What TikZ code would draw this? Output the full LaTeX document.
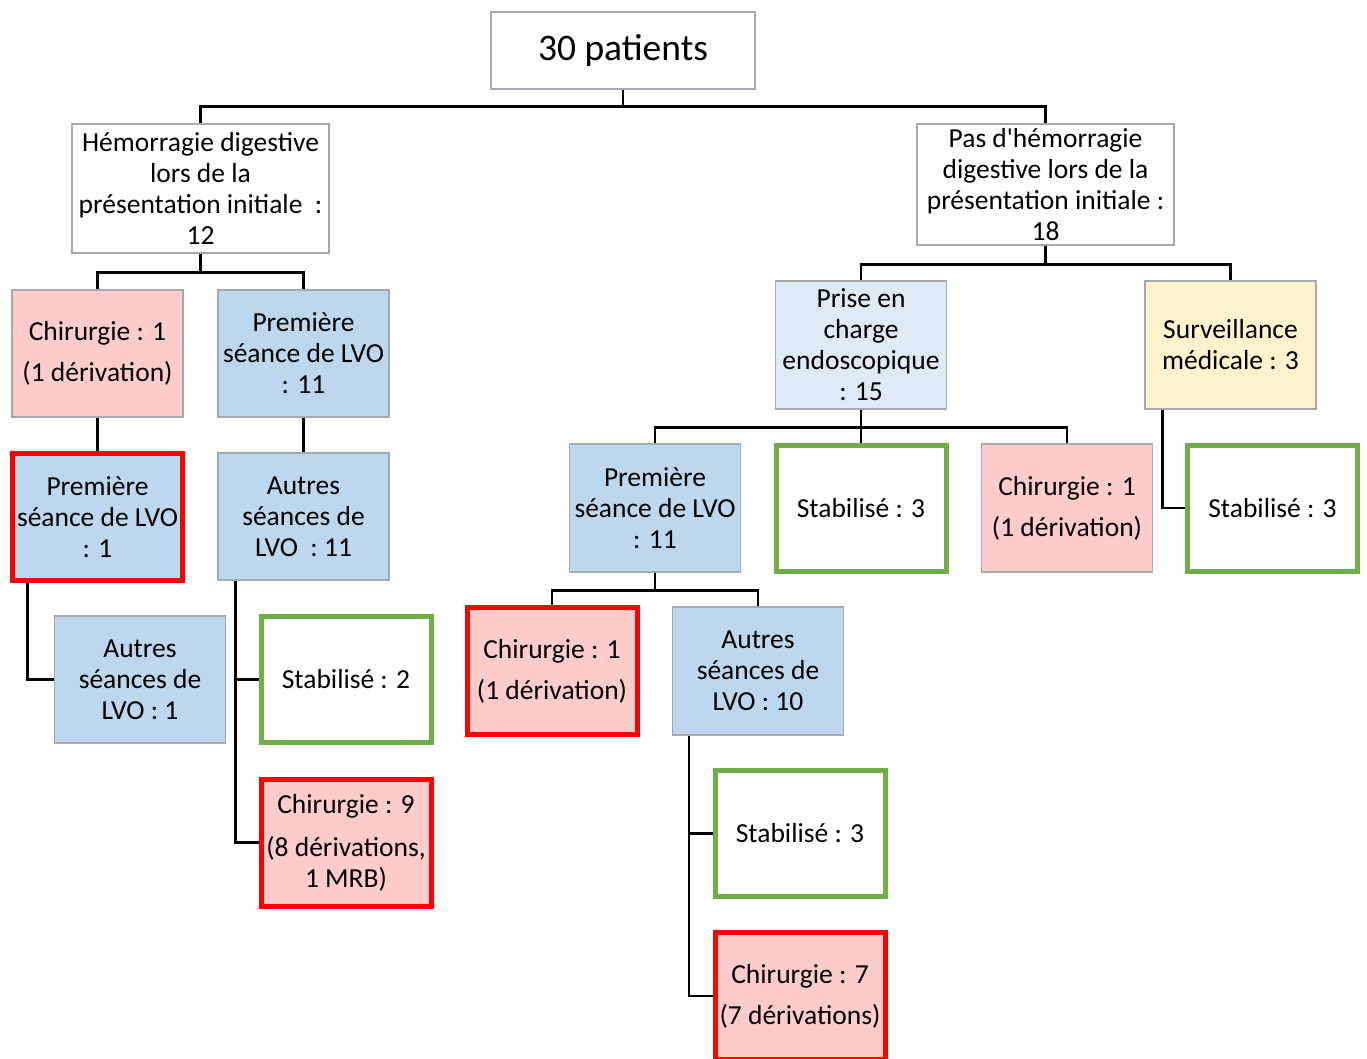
\documentclass[tikz,border=0pt]{standalone}
\usepackage{fontspec}
\setmainfont{Carlito}
\begin{document}
\begin{tikzpicture}[x=1pt,y=-1pt,
  every node/.style={inner sep=0pt, align=center, font=\fontsize{27.5}{31}\selectfont},
  box/.style={draw=boxgray, line width=1.2pt, minimum width=#1},
  box/.default=171,
  bluebox/.style={box, fill=blueF, minimum height=127},
  pinkbox/.style={box, fill=pinkF, minimum height=127},
  redbox/.style={draw=red, line width=5pt, fill=pinkF, minimum width=170, minimum height=127},
  redblue/.style={draw=red, line width=5pt, fill=blueF, minimum width=170, minimum height=127},
  greenbox/.style={draw=greenB, line width=5pt, fill=white, minimum width=170, minimum height=126},
  conn/.style={line width=2.4pt, black}
]
\definecolor{boxgray}{HTML}{A3A9AF}
\definecolor{blueF}{HTML}{BDD7EE}
\definecolor{pinkF}{HTML}{FFCCCC}
\definecolor{yellowF}{HTML}{FFF2CC}
\definecolor{lblueF}{HTML}{DEEBF7}
\definecolor{greenB}{HTML}{70AD47}
\useasboundingbox[fill=white] (0,0) rectangle (1367,1059);

% root
\node[box=264, fill=white, minimum height=77, font=\fontsize{37.5}{42}\selectfont] (root) at (623,50.5) {30 patients};

% level 1
\node[box=257, fill=white, minimum height=129] (H1) at (200.5,188.5)
  {Hémorragie digestive\\lors de la\\présentation initiale~ :\\12};
\node[box=257, fill=white, minimum height=121] (H2) at (1045.5,184.5)
  {Pas d\textquotesingle hémorragie\\digestive lors de la\\présentation initiale :\\18};

% left branch
\node[pinkbox] (L1) at (97.5,353.5) {Chirurgie : 1\\[10pt](1 dérivation)};
\node[bluebox] (L2) at (303.5,353.5) {Première\\séance de LVO\\: 11};
\node[redblue] (L3) at (97.5,517) {Première\\séance de LVO\\: 1};
\node[bluebox] (L4) at (303.5,516.5) {Autres\\séances de\\LVO~ : 11};
\node[bluebox] (L5) at (140,679.5) {Autres\\séances de\\LVO : 1};
\node[greenbox] (L6) at (346,679.5) {Stabilisé : 2};
\node[redbox] (L7) at (346,842.5) {Chirurgie : 9\\[12pt](8 dérivations,\\1 MRB)};

% right branch
\node[box, fill=lblueF, minimum height=128] (R1) at (861,345) {Prise en\\charge\\endoscopique\\: 15};
\node[box, fill=yellowF, minimum height=128] (R2) at (1230.5,345) {Surveillance\\médicale : 3};
\node[bluebox, minimum height=128] (R3) at (655,508) {Première\\séance de LVO\\: 11};
\node[greenbox] (R4) at (861,508.5) {Stabilisé : 3};
\node[pinkbox, minimum height=128] (R5) at (1067,508) {Chirurgie : 1\\[10pt](1 dérivation)};
\node[greenbox] (R6) at (1272.5,508) {Stabilisé : 3};
\node[redbox] (R7) at (552,671) {Chirurgie : 1\\[10pt](1 dérivation)};
\node[bluebox, minimum height=128] (R8) at (758,671) {Autres\\séances de\\LVO : 10};
\node[greenbox] (R9) at (800,833.5) {Stabilisé : 3};
\node[redbox] (R10) at (800,996) {Chirurgie : 7\\[10pt](7 dérivations)};

% connectors
\draw[conn] (root.south) -- ++(0,17) -| (H1.north);
\draw[conn] (root.south) -- ++(0,17) -| (H2.north);
\draw[conn] (H1.south) -- ++(0,19) -| (L1.north);
\draw[conn] (H1.south) -- ++(0,19) -| (L2.north);
\draw[conn] (L1.south) -- (L3.north);
\draw[conn] (L2.south) -- (L4.north);
\draw[conn] ([xshift=17.5pt]L3.south west) |- (L5.west);
\draw[conn] ([xshift=18pt]L4.south west) |- (L6.west);
\draw[conn] ([xshift=18pt]L4.south west) |- (L7.west);
\draw[conn] (H2.south) -- ++(0,19) -| (R1.north);
\draw[conn] (H2.south) -- ++(0,19) -| (R2.north);
\draw[conn] (R1.south) -- ++(0,18) -| (R3.north);
\draw[conn] (R1.south) -- (R4.north);
\draw[conn] (R1.south) -- ++(0,18) -| (R5.north);
\draw[conn] ([xshift=18pt]R2.south west) |- (R6.west);
\draw[conn] (R3.south) -- ++(0,18) -| (R7.north);
\draw[conn] (R3.south) -- ++(0,18) -| (R8.north);
\draw[conn] ([xshift=17pt]R8.south west) |- (R9.west);
\draw[conn] ([xshift=17pt]R8.south west) |- (R10.west);
\end{tikzpicture}
\end{document}
